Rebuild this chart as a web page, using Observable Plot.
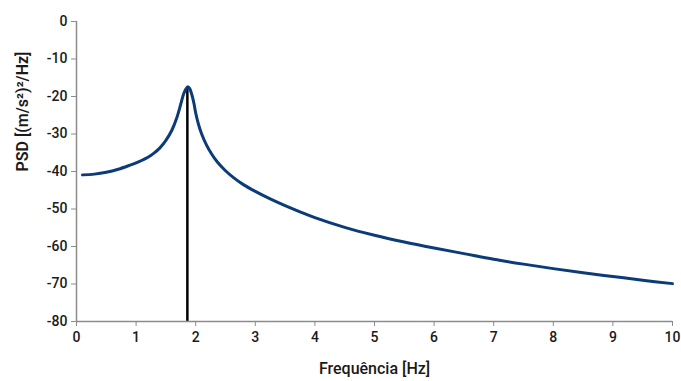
<!DOCTYPE html>
<html><head><meta charset="utf-8">
<script src="https://cdn.jsdelivr.net/npm/d3@7"></script>
<script src="https://cdn.jsdelivr.net/npm/@observablehq/plot@0.6"></script>
<style>body{margin:0;background:#fff}</style>
</head><body><div id="chart"></div>
<script>
const freq = [0.1, 0.3, 0.5, 0.7, 0.9, 1.0, 1.1, 1.2, 1.3, 1.4, 1.5, 1.6, 1.68, 1.75, 1.8, 1.84, 1.87, 1.9, 1.94, 1.97, 2.0, 2.05, 2.1, 2.18, 2.27, 2.36, 2.5, 2.64, 2.8, 3.0, 3.25, 3.5, 3.75, 4.0, 4.5, 5.0, 5.5, 6.0, 6.5, 7.0, 7.5, 8.0, 8.5, 9.0, 9.5, 10.0];
const psd = [-40.9, -40.7, -40.2, -39.4, -38.3, -37.7, -37.0, -36.2, -35.1, -33.7, -31.7, -29.0, -25.8, -22.0, -19.2, -17.9, -17.4, -17.9, -19.8, -21.8, -24.4, -27.6, -30.0, -32.9, -35.4, -37.4, -39.8, -41.7, -43.5, -45.3, -47.3, -49.1, -50.75, -52.3, -54.9, -57.0, -58.8, -60.4, -61.9, -63.4, -64.7, -65.9, -67.0, -68.0, -69.0, -69.9];
const peakFreq = 1.86;
const peakPsd = -17.5;
const xTicks = [0, 1, 2, 3, 4, 5, 6, 7, 8, 9, 10];
const yTicks = [0, -10, -20, -30, -40, -50, -60, -70, -80];
const xLabel = "Frequência [Hz]";
const yLabel = "PSD [(m/s²)²/Hz]";

const data = freq.map((f, i) => ({f, p: psd[i]}));
const axisColor = "#8c8c8c";
const textColor = "#1a1a1a";

const chart = Plot.plot({
  width: 681, height: 381,
  marginLeft: 76, marginRight: 9, marginTop: 21, marginBottom: 60,
  style: {fontFamily: "Roboto, 'Noto Sans', sans-serif", fontSize: "14px", color: textColor, background: "#fff"},
  x: {domain: [0, 10]},
  y: {domain: [-80, 0]},
  marks: [
    Plot.ruleX([peakFreq], {y1: -80, y2: peakPsd, stroke: "#000", strokeWidth: 2.5}),
    Plot.line(data, {x: "f", y: "p", stroke: "#0b3b78", strokeWidth: 3, curve: "catmull-rom"}),
    Plot.ruleX([0], {stroke: axisColor, strokeWidth: 1.5}),
    Plot.ruleY([-80], {stroke: axisColor, strokeWidth: 1.5}),
    Plot.axisX({ticks: xTicks, tickSize: 5, stroke: axisColor, tickPadding: 6, label: null, fontSize: 14, fontWeight: 500, fill: textColor, tickFormat: d => String(d)}),
    Plot.axisY({ticks: yTicks, tickSize: 5, stroke: axisColor, tickPadding: 4, label: null, fontSize: 14, fontWeight: 500, fill: textColor, tickFormat: d => String(d)}),
    Plot.text([xLabel], {frameAnchor: "bottom", dy: 52, fontSize: 16, fontWeight: 500, fill: textColor}),
    Plot.text([yLabel], {frameAnchor: "left", rotate: -90, dx: -54, fontSize: 16, fontWeight: 600, fill: textColor})
  ]
});
document.getElementById("chart").append(chart);
</script>
</body></html>
